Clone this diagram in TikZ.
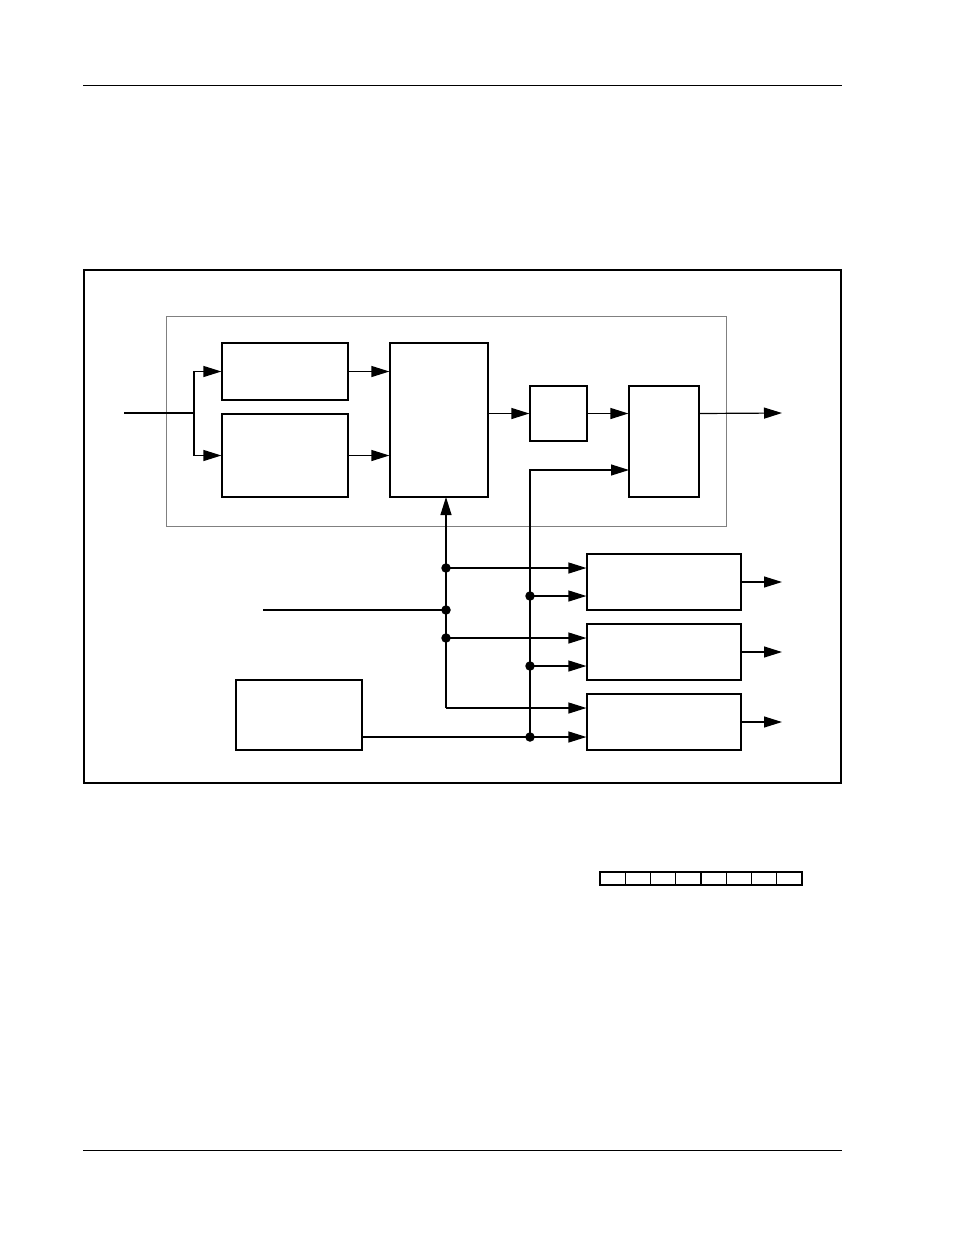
\documentclass[tikz,border=0pt]{standalone}
\usetikzlibrary{arrows.meta}
\tikzset{
  blk/.style={draw, rectangle, line width=1.2pt, inner sep=0pt},
  regcell/.style={draw, rectangle, line width=1.2pt, inner sep=0pt, minimum width=25.25pt, minimum height=13pt},
  dot/.style={circle, fill, inner sep=0pt, minimum size=9.5pt},
}
\begin{document}
\begin{tikzpicture}[x=1pt,y=-1pt,>={Triangle[length=18pt,width=11pt]},line width=1.2pt]
\useasboundingbox (0,0) rectangle (954,1235);
\draw[line width=0.9pt] (83,85) -- (842,85);
\draw[line width=0.9pt] (83,1150) -- (842,1150);
\draw[line width=2.2pt] (84,270) rectangle (841,783);
\draw[gray, line width=1pt] (166,316) rectangle (726,526);

\node(A)[blk, minimum width=126pt, minimum height=57pt] at (285,371.5) {};
\node(B)[blk, minimum width=126pt, minimum height=83pt] at (285,455.5) {};
\node(C)[blk, minimum width=98pt, minimum height=154pt] at (439,420) {};
\node(D)[blk, minimum width=57pt, minimum height=55pt] at (558.5,413.5) {};
\node(E)[blk, minimum width=70pt, minimum height=111pt] at (664,441.5) {};
\node(F)[blk, minimum width=154pt, minimum height=56pt] at (664,582) {};
\node(G)[blk, minimum width=154pt, minimum height=56pt] at (664,652) {};
\node(H)[blk, minimum width=154pt, minimum height=56pt] at (664,722) {};
\node(I)[blk, minimum width=126pt, minimum height=70pt] at (299,715) {};

\coordinate(In) at (124,413);
\coordinate(Split) at (194,413);
\coordinate(Out) at (782,413);
\coordinate(Sel) at (263,610);
\coordinate(CIn) at (446,497);
\coordinate(EIn) at (629,470);
\coordinate(jA1) at (446,568);
\coordinate(jA2) at (446,610);
\coordinate(jA3) at (446,638);
\coordinate(jA4) at (446,708);
\coordinate(jB0) at (530,470);
\coordinate(jB1) at (530,596);
\coordinate(jB2) at (530,666);
\coordinate(jB3) at (530,737);
\coordinate(OutF) at (782,582);
\coordinate(OutG) at (782,652);
\coordinate(OutH) at (782,722);

\draw (In) -- (Split);
\draw[->] (Split) |- (A.west);
\draw[->] (Split) |- (B.west);
\draw[->] (A.east) -- (A.east -| C.west);
\draw[->] (B.east) -- (B.east -| C.west);
\draw[->] (D.west -| C.east) -- (D.west);
\draw[->] (D.east) -- (D.east -| E.west);
\draw[->] (D.east -| E.east) -- (Out);

\draw[->] (jA4) -- (CIn);
\draw (Sel) -- (jA2);
\draw[->] (jA1) -- (jA1 -| F.west);
\draw[->] (jA3) -- (jA3 -| G.west);
\draw[->] (jA4) -- (jA4 -| H.west);

\draw[->] (jB3) -- (jB0) -- (EIn);
\draw[->] (jB1) -- (jB1 -| F.west);
\draw[->] (jB2) -- (jB2 -| G.west);
\draw (jB3 -| I.east) -- (jB3);
\draw[->] (jB3) -- (jB3 -| H.west);

\draw[->] (F.east) -- (OutF);
\draw[->] (G.east) -- (OutG);
\draw[->] (H.east) -- (OutH);

\foreach \j in {jA1,jA2,jA3,jB1,jB2,jB3}
  \node[dot] at (\j) {};

\foreach \i in {0,...,7}
  \node(R\i)[regcell] at ({612.6+25.25*\i},878.5) {};
\end{tikzpicture}
\end{document}
